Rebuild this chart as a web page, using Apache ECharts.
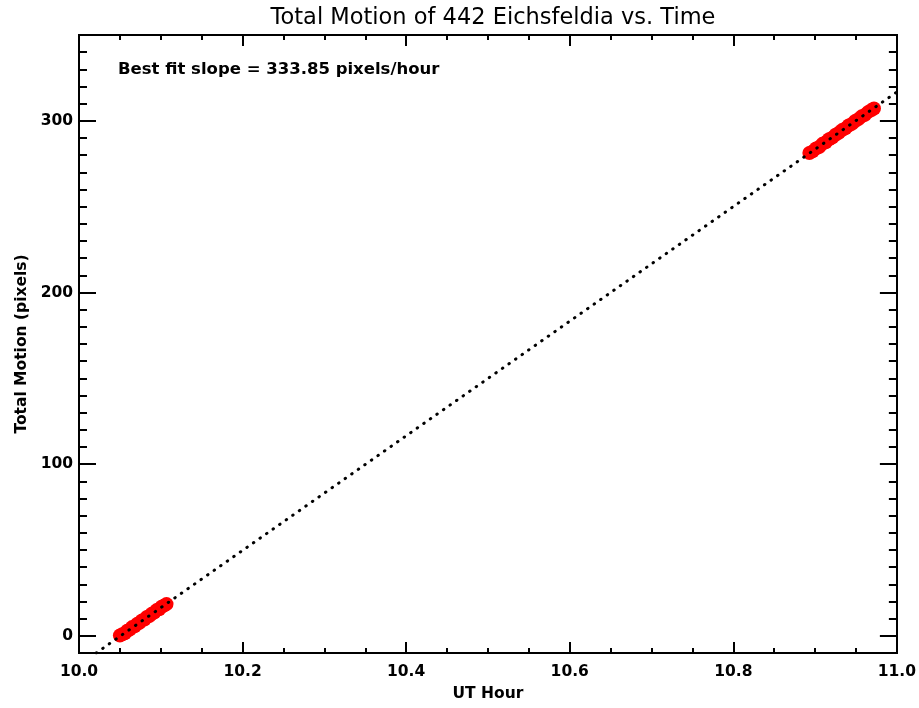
<!DOCTYPE html>
<html>
<head>
<meta charset="utf-8">
<script src="https://cdn.jsdelivr.net/npm/echarts@6/dist/echarts.min.js"></script>
<style>
html, body { margin: 0; padding: 0; background: #fff; }
#main { width: 919px; height: 708px; }
</style>
</head>
<body>
<div id="main"></div>
<script>
// measured positions of the asteroid, start of the night
var leftHours = [10.050, 10.053, 10.056, 10.059, 10.062, 10.065, 10.068, 10.071, 10.074, 10.077,
                 10.080, 10.083, 10.086, 10.089, 10.092, 10.095, 10.098, 10.101, 10.104, 10.107];
var leftMotion = [0.2, 0.9, 1.5, 3.0, 3.6, 5.1, 5.5, 6.9, 7.6, 9.0,
                  9.5, 11.0, 11.5, 12.9, 13.6, 15.0, 15.5, 16.9, 17.6, 18.5];
// measured positions, end of the night
var rightHours = [10.893, 10.897, 10.901, 10.905, 10.909, 10.913, 10.917, 10.921, 10.925, 10.929,
                  10.933, 10.937, 10.941, 10.945, 10.949, 10.953, 10.957, 10.961, 10.965, 10.969, 10.972];
var rightMotion = [281.3, 282.2, 283.9, 284.8, 286.6, 287.5, 289.3, 290.2, 291.9, 293.0,
                   294.6, 295.6, 297.3, 298.2, 299.9, 301.0, 302.6, 303.5, 305.2, 306.3, 307.2];
// best fit line end points
var fitHours = [10.021, 11.0];
var fitMotion = [-10.0, 316.8];

var xMajorTicks = [10.0, 10.2, 10.4, 10.6, 10.8, 11.0];
var xMinorTicks = [10.05, 10.1, 10.15, 10.25, 10.3, 10.35, 10.45, 10.5, 10.55,
                   10.65, 10.7, 10.75, 10.85, 10.9, 10.95];
var yMajorTicks = [0, 100, 200, 300];
var yMinorTicks = [];
for (var v = -10; v <= 350; v += 10) {
  if (v % 100 !== 0) yMinorTicks.push(v);
}

function zip(a, b) {
  return a.map(function (x, i) { return [x, b[i]]; });
}

var black = "#000";
var fontFam = "DejaVu Sans";

function xAxisDef(pos, ticks, len, labels) {
  return {
    type: "value",
    position: pos,
    min: 10,
    max: 11,
    axisLine: { show: true, onZero: false, lineStyle: { color: black, width: 2 } },
    axisTick: { show: true, inside: true, length: len, customValues: ticks,
                lineStyle: { color: black, width: 2 } },
    axisLabel: { show: labels, customValues: xMajorTicks, color: black, fontSize: 15.5,
                 fontWeight: "bold", fontFamily: fontFam, margin: 11,
                 formatter: function (v) { return v.toFixed(1); } },
    splitLine: { show: false }
  };
}

function yAxisDef(pos, ticks, len, labels) {
  return {
    type: "value",
    position: pos,
    offset: 0,
    min: -10,
    max: 350,
    axisLine: { show: true, onZero: false, lineStyle: { color: black, width: 2 } },
    axisTick: { show: true, inside: true, length: len, customValues: ticks,
                lineStyle: { color: black, width: 2 } },
    axisLabel: { show: labels, customValues: yMajorTicks, color: black, fontSize: 15.5,
                 fontWeight: "bold", fontFamily: fontFam, margin: 6 },
    splitLine: { show: false }
  };
}

var xMain = xAxisDef("bottom", xMajorTicks, 11, true);
xMain.name = "UT Hour";
xMain.nameLocation = "middle";
xMain.nameGap = 33;
xMain.nameTextStyle = { color: black, fontSize: 15.5, fontWeight: "bold", fontFamily: fontFam };

var yMain = yAxisDef("left", yMajorTicks, 17, true);
yMain.name = "Total Motion (pixels)";
yMain.nameLocation = "middle";
yMain.nameGap = 47;
yMain.nameTextStyle = { color: black, fontSize: 15.5, fontWeight: "bold", fontFamily: fontFam };

var myChart = echarts.init(document.getElementById("main"));
var option = {
  animation: false,
  backgroundColor: "#fff",
  grid: { left: 79, right: 19, top: 35, bottom: 55 },
  xAxis: [
    xMain,
    xAxisDef("bottom", xMinorTicks, 5, false),
    xAxisDef("top", xMajorTicks, 11, false),
    xAxisDef("top", xMinorTicks, 5, false)
  ],
  yAxis: [
    yMain,
    yAxisDef("left", yMinorTicks, 8, false),
    yAxisDef("right", yMajorTicks, 17, false),
    yAxisDef("right", yMinorTicks, 8, false)
  ],
  graphic: [
    {
      type: "text",
      x: 493,
      y: 18,
      style: { text: "Total Motion of 442 Eichsfeldia vs. Time", fill: black,
               fontSize: 22.5, fontFamily: fontFam, textAlign: "center", textVerticalAlign: "middle" }
    },
    {
      type: "text",
      x: 118,
      y: 70,
      style: { text: "Best fit slope = 333.85 pixels/hour", fill: black,
               fontSize: 16.5, fontWeight: "bold", fontFamily: fontFam,
               textAlign: "left", textVerticalAlign: "middle" }
    }
  ],
  series: [
    {
      type: "scatter",
      data: zip(leftHours, leftMotion),
      symbol: "circle",
      symbolSize: 14,
      itemStyle: { color: "#ff0000", opacity: 1 },
      z: 2
    },
    {
      type: "scatter",
      data: zip(rightHours, rightMotion),
      symbol: "circle",
      symbolSize: 14,
      itemStyle: { color: "#ff0000", opacity: 1 },
      z: 2
    },
    {
      type: "line",
      data: zip(fitHours, fitMotion),
      showSymbol: false,
      symbol: "none",
      lineStyle: { color: black, width: 3, type: [0.5, 7.5], cap: "round" },
      z: 5
    }
  ]
};
myChart.setOption(option);
</script>
</body>
</html>
